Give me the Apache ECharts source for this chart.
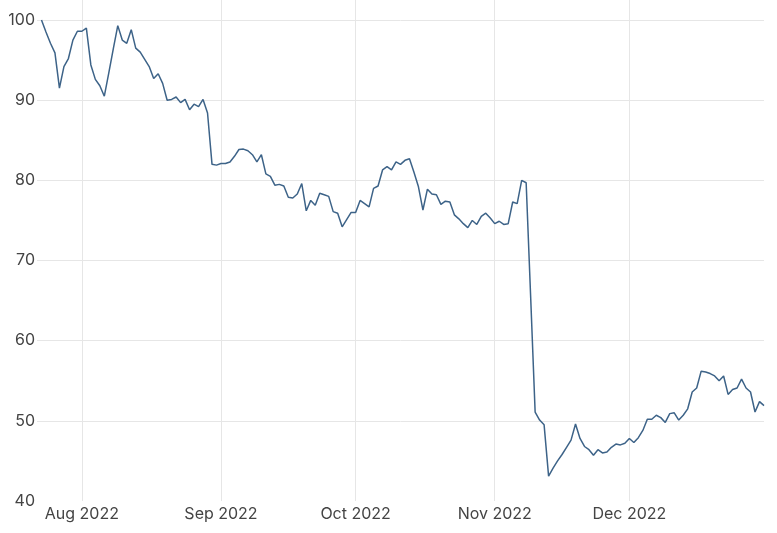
<!DOCTYPE html>
<html>
<head>
<meta charset="utf-8">
<script src="https://cdn.jsdelivr.net/npm/echarts@6/dist/echarts.min.js"></script>
<style>
html,body{margin:0;padding:0;background:#fff;}
#chart{width:777px;height:533px;}
</style>
</head>
<body>
<div id="chart"></div>
<script>
// Daily series starting at this date
const startDate = '2022-07-23';
const axisStart = '2022-07-22';
const axisEnd = '2022-12-31';
const monthNames = ['Jan','Feb','Mar','Apr','May','Jun','Jul','Aug','Sep','Oct','Nov','Dec'];
const yTicks = [40, 50, 60, 70, 80, 90, 100];

const values = [
  100.0, 98.5, 97.1, 95.9, 91.5, 94.2, 95.2, 97.5, 98.6, 98.6,
  99.0, 94.4, 92.6, 91.8, 90.5, 93.4, 96.4, 99.3, 97.5, 97.1,
  98.8, 96.5, 96.0, 95.1, 94.2, 92.7, 93.3, 92.1, 90.0, 90.1,
  90.4, 89.7, 90.1, 88.8, 89.5, 89.2, 90.1, 88.4, 82.0, 81.9,
  82.1, 82.1, 82.3, 83.0, 83.85, 83.9, 83.7, 83.2, 82.3, 83.2,
  80.8, 80.5, 79.4, 79.5, 79.3, 77.9, 77.8, 78.3, 79.6, 76.2,
  77.5, 76.9, 78.4, 78.2, 78.0, 76.1, 75.9, 74.2, 75.1, 76.0,
  76.0, 77.5, 77.1, 76.7, 79.0, 79.3, 81.3, 81.7, 81.3, 82.3,
  82.0, 82.5, 82.7, 81.0, 79.2, 76.3, 78.9, 78.3, 78.2, 77.0,
  77.4, 77.3, 75.7, 75.2, 74.6, 74.1, 75.0, 74.5, 75.5, 75.9,
  75.3, 74.6, 74.9, 74.5, 74.6, 77.3, 77.1, 80.0, 79.7, 65.5,
  51.1, 50.1, 49.5, 43.1, 44.1, 45.0, 45.8, 46.7, 47.6, 49.6,
  47.8, 46.8, 46.4, 45.7, 46.4, 46.0, 46.1, 46.7, 47.1, 47.0,
  47.2, 47.8, 47.3, 47.9, 48.8, 50.2, 50.2, 50.7, 50.4, 49.8,
  50.9, 51.0, 50.1, 50.7, 51.5, 53.6, 54.1, 56.2, 56.1, 55.9,
  55.6, 55.0, 55.6, 53.3, 53.9, 54.1, 55.2, 54.1, 53.6, 51.1,
  52.4, 51.9
];

function pad(n){ return (n < 10 ? '0' : '') + n; }
const dates = values.map(function(_, i){
  const p = startDate.split('-').map(Number);
  const d = new Date(p[0], p[1] - 1, p[2] + i);
  return d.getFullYear() + '-' + pad(d.getMonth() + 1) + '-' + pad(d.getDate());
});

const seriesData = dates.map(function(d, i){ return [d, values[i]]; });

const chart = echarts.init(document.getElementById('chart'), null, {renderer: 'canvas'});
const DAY = 86400000;
const gridColor = '#e6e6e6';
const textColor = '#444';
const fontFamily = 'Inter, "Noto Sans", sans-serif';

chart.setOption({
  animation: false,
  backgroundColor: '#ffffff',
  grid: {left: 37, right: 13, top: 0, bottom: 32, containLabel: false},
  xAxis: {
    type: 'time',
    min: axisStart,
    max: axisEnd,
    minInterval: 28 * DAY,
    maxInterval: 31 * DAY,
    axisLine: {show: false},
    axisTick: {show: false},
    splitLine: {show: true, showMinLine: false, showMaxLine: false, lineStyle: {color: gridColor, width: 1}},
    axisLabel: {
      color: textColor,
      fontFamily: fontFamily,
      fontSize: 16,
      margin: 5,
      showMinLabel: false,
      showMaxLabel: false,
      hideOverlap: false,
      formatter: function(v){
        const d = new Date(v);
        return monthNames[d.getMonth()] + ' ' + d.getFullYear();
      }
    }
  },
  yAxis: {
    type: 'value',
    min: yTicks[0],
    max: 102.5,
    interval: 10,
    axisLine: {show: false},
    axisTick: {show: false},
    splitLine: {show: true, showMinLine: false, showMaxLine: false, lineStyle: {color: gridColor, width: 1}},
    axisLabel: {
      color: textColor,
      fontFamily: fontFamily,
      fontSize: 16,
      margin: 2,
      showMaxLabel: false
    }
  },
  series: [{
    type: 'line',
    data: seriesData,
    showSymbol: false,
    symbol: 'none',
    lineStyle: {color: '#3d6388', width: 1.5},
    itemStyle: {color: '#3d6388'}
  }]
});
</script>
</body>
</html>
